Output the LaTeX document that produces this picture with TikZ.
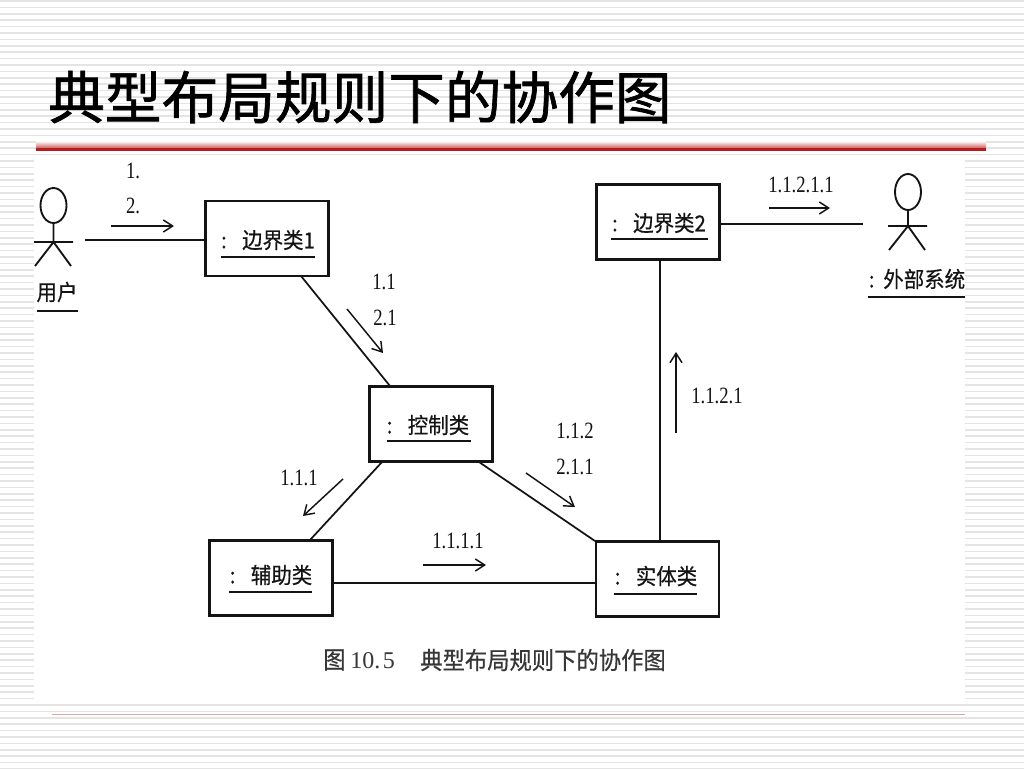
\documentclass[tikz,border=0pt]{standalone}
\usepackage{fontspec}
\setmainfont{Liberation Serif}
\newfontfamily\cjk[FakeStretch=0.93,FakeBold=0.5]{Noto Sans CJK SC}
\newfontfamily\cjktitle[FakeBold=1.2]{Noto Sans CJK SC}
\newfontfamily\numf[FakeStretch=0.8]{Liberation Serif}
\usetikzlibrary{arrows.meta}
\definecolor{stripe}{HTML}{E4E4E4}
\definecolor{rulered}{HTML}{B81C1C}
\definecolor{inkdark}{HTML}{141414}
\tikzset{
  x=0.75pt,y=-0.75pt,
  objbox/.style={draw=inkdark,line width=1.9pt,fill=white,minimum width=92pt,minimum height=56pt,inner sep=0pt,outer sep=0pt},
  objtext/.style={inkdark,font=\cjk\fontsize{16.5}{16.5}\selectfont,inner sep=0pt},
  numlabel/.style={inkdark,font=\numf\fontsize{17.5}{18}\selectfont,inner sep=0pt},
  link/.style={draw=inkdark,line width=1.3pt},
  msgarrow/.style={draw=inkdark,line width=1.1pt,-{Straight Barb[length=7pt,width=9pt]}},
  stick/.style={draw=inkdark,line width=1.4pt},
  underl/.style={draw=inkdark,line width=1.6pt},
}
\begin{document}
\begin{tikzpicture}
\useasboundingbox (0,0) rectangle (1024,768);
\fill[white] (0,0) rectangle (1024,768);
% striped slide background
\foreach \i in {0,...,120}{
  \draw[stripe,line width=1.1pt] (0,{1+\i*6.4}) -- (1024,{1+\i*6.4});
}
% white picture area
\fill[white] (34,157) rectangle (965,703);
% title
\node[anchor=west,black,inner sep=0pt,font=\cjktitle\fontsize{42.5}{42}\selectfont] (title) at (48,97) {典型布局规则下的协作图};
% title rule
\shade[top color=white,bottom color=rulered!70] (36,141) rectangle (986,148);
\fill[rulered] (36,148) rectangle (986,151);
\draw[draw=red!60!black!35,line width=0.6pt] (52,714) -- (965,714);
% objects
\node[objbox] (b1) at (267,238.5) {};
\node[objbox] (b2) at (658,222) {};
\node[objbox] (ctl) at (431,424) {};
\node[objbox] (aux) at (271,578) {};
\node[objbox] (ent) at (657.5,579) {};
\node[objtext] (b1t) at (268,240) {:\hspace{0.7em}边界类1};
\node[objtext] (b2t) at (659,223) {:\hspace{0.7em}边界类2};
\node[objtext] (ctlt) at (428,425) {:\hspace{0.7em}控制类};
\node[objtext] (auxt) at (271,575) {:\hspace{0.7em}辅助类};
\node[objtext] (entt) at (656,576) {:\hspace{0.7em}实体类};
\draw[underl] (221,257) -- (315,257);
\draw[underl] (611,239) -- (708,239);
\draw[underl] (387,441) -- (471,441);
\draw[underl] (229,592) -- (312,592);
\draw[underl] (614,594) -- (697,594);
% actors
\coordinate (userend) at (85,240);
\coordinate (extend) at (863,224);
\draw[stick] (53.5,205.5) ellipse [x radius=13,y radius=17.5];
\draw[stick] (53.5,223) -- (53.5,242) (34,242) -- (73,242) (35,266) -- (53.5,242) -- (71,266);
\draw[stick] (908,192) ellipse [x radius=13,y radius=18];
\draw[stick] (908,210) -- (908,226) (888,226) -- (927,226) (889,250) -- (908,226) -- (925,250);
\node[objtext] (usr) at (57,292) {用户};
\draw[underl] (37,311) -- (78,311);
\node[objtext] (extn) at (917,279) {:\hspace{0.4em}外部系统};
\draw[underl] (868,297) -- (965,297);
% connectors
\draw[link] (userend) -- (b1.west |- userend);
\draw[link] (b2.east |- extend) -- (extend);
\draw[link] (301,276) -- (390,386);
\draw[link] (382,462) -- (310,540);
\draw[link] (479,462) -- (595,541);
\draw[link] (aux.east |- 0,583) -- (ent.west |- 0,583);
\draw[link] (ent.north -| 660,0) -- (b2.south -| 660,0);
% message arrows
\coordinate (m1a) at (111,226); \coordinate (m1b) at (174,226);
\coordinate (m2a) at (347,309); \coordinate (m2b) at (383,353);
\coordinate (m3a) at (769,208); \coordinate (m3b) at (830,208);
\coordinate (m4a) at (676,433); \coordinate (m4b) at (676,352);
\coordinate (m5a) at (526,473); \coordinate (m5b) at (575,507);
\coordinate (m6a) at (343,479); \coordinate (m6b) at (303,516);
\coordinate (m7a) at (423,565); \coordinate (m7b) at (486,565);
\foreach \k in {1,...,7}{ \draw[msgarrow] (m\k a) -- (m\k b); }
% labels
\node[numlabel] (l1) at (133,171) {1.};
\node[numlabel] (l2) at (133,206) {2.};
\node[numlabel] (l3) at (384,282) {1.1};
\node[numlabel] (l4) at (385,318) {2.1};
\node[numlabel] (l5) at (801,185) {1.1.2.1.1};
\node[numlabel] (l6) at (717,396) {1.1.2.1};
\node[numlabel] (l7) at (575,431) {1.1.2};
\node[numlabel] (l8) at (575,467) {2.1.1};
\node[numlabel] (l9) at (299,478) {1.1.1};
\node[numlabel] (l10) at (458,541) {1.1.1.1};
% caption
\node[anchor=west,inkdark!85,inner sep=0pt,font=\fontsize{18}{18}\selectfont] (capn) at (323,660) {\cjk 图\hspace{0.2em}\rmfamily 10.\hspace{0.1em}5};
\node[anchor=west,inkdark!85,inner sep=0pt,font=\cjk\fontsize{18}{18}\selectfont] (capt) at (420,660) {典型布局规则下的协作图};
\end{tikzpicture}
\end{document}
